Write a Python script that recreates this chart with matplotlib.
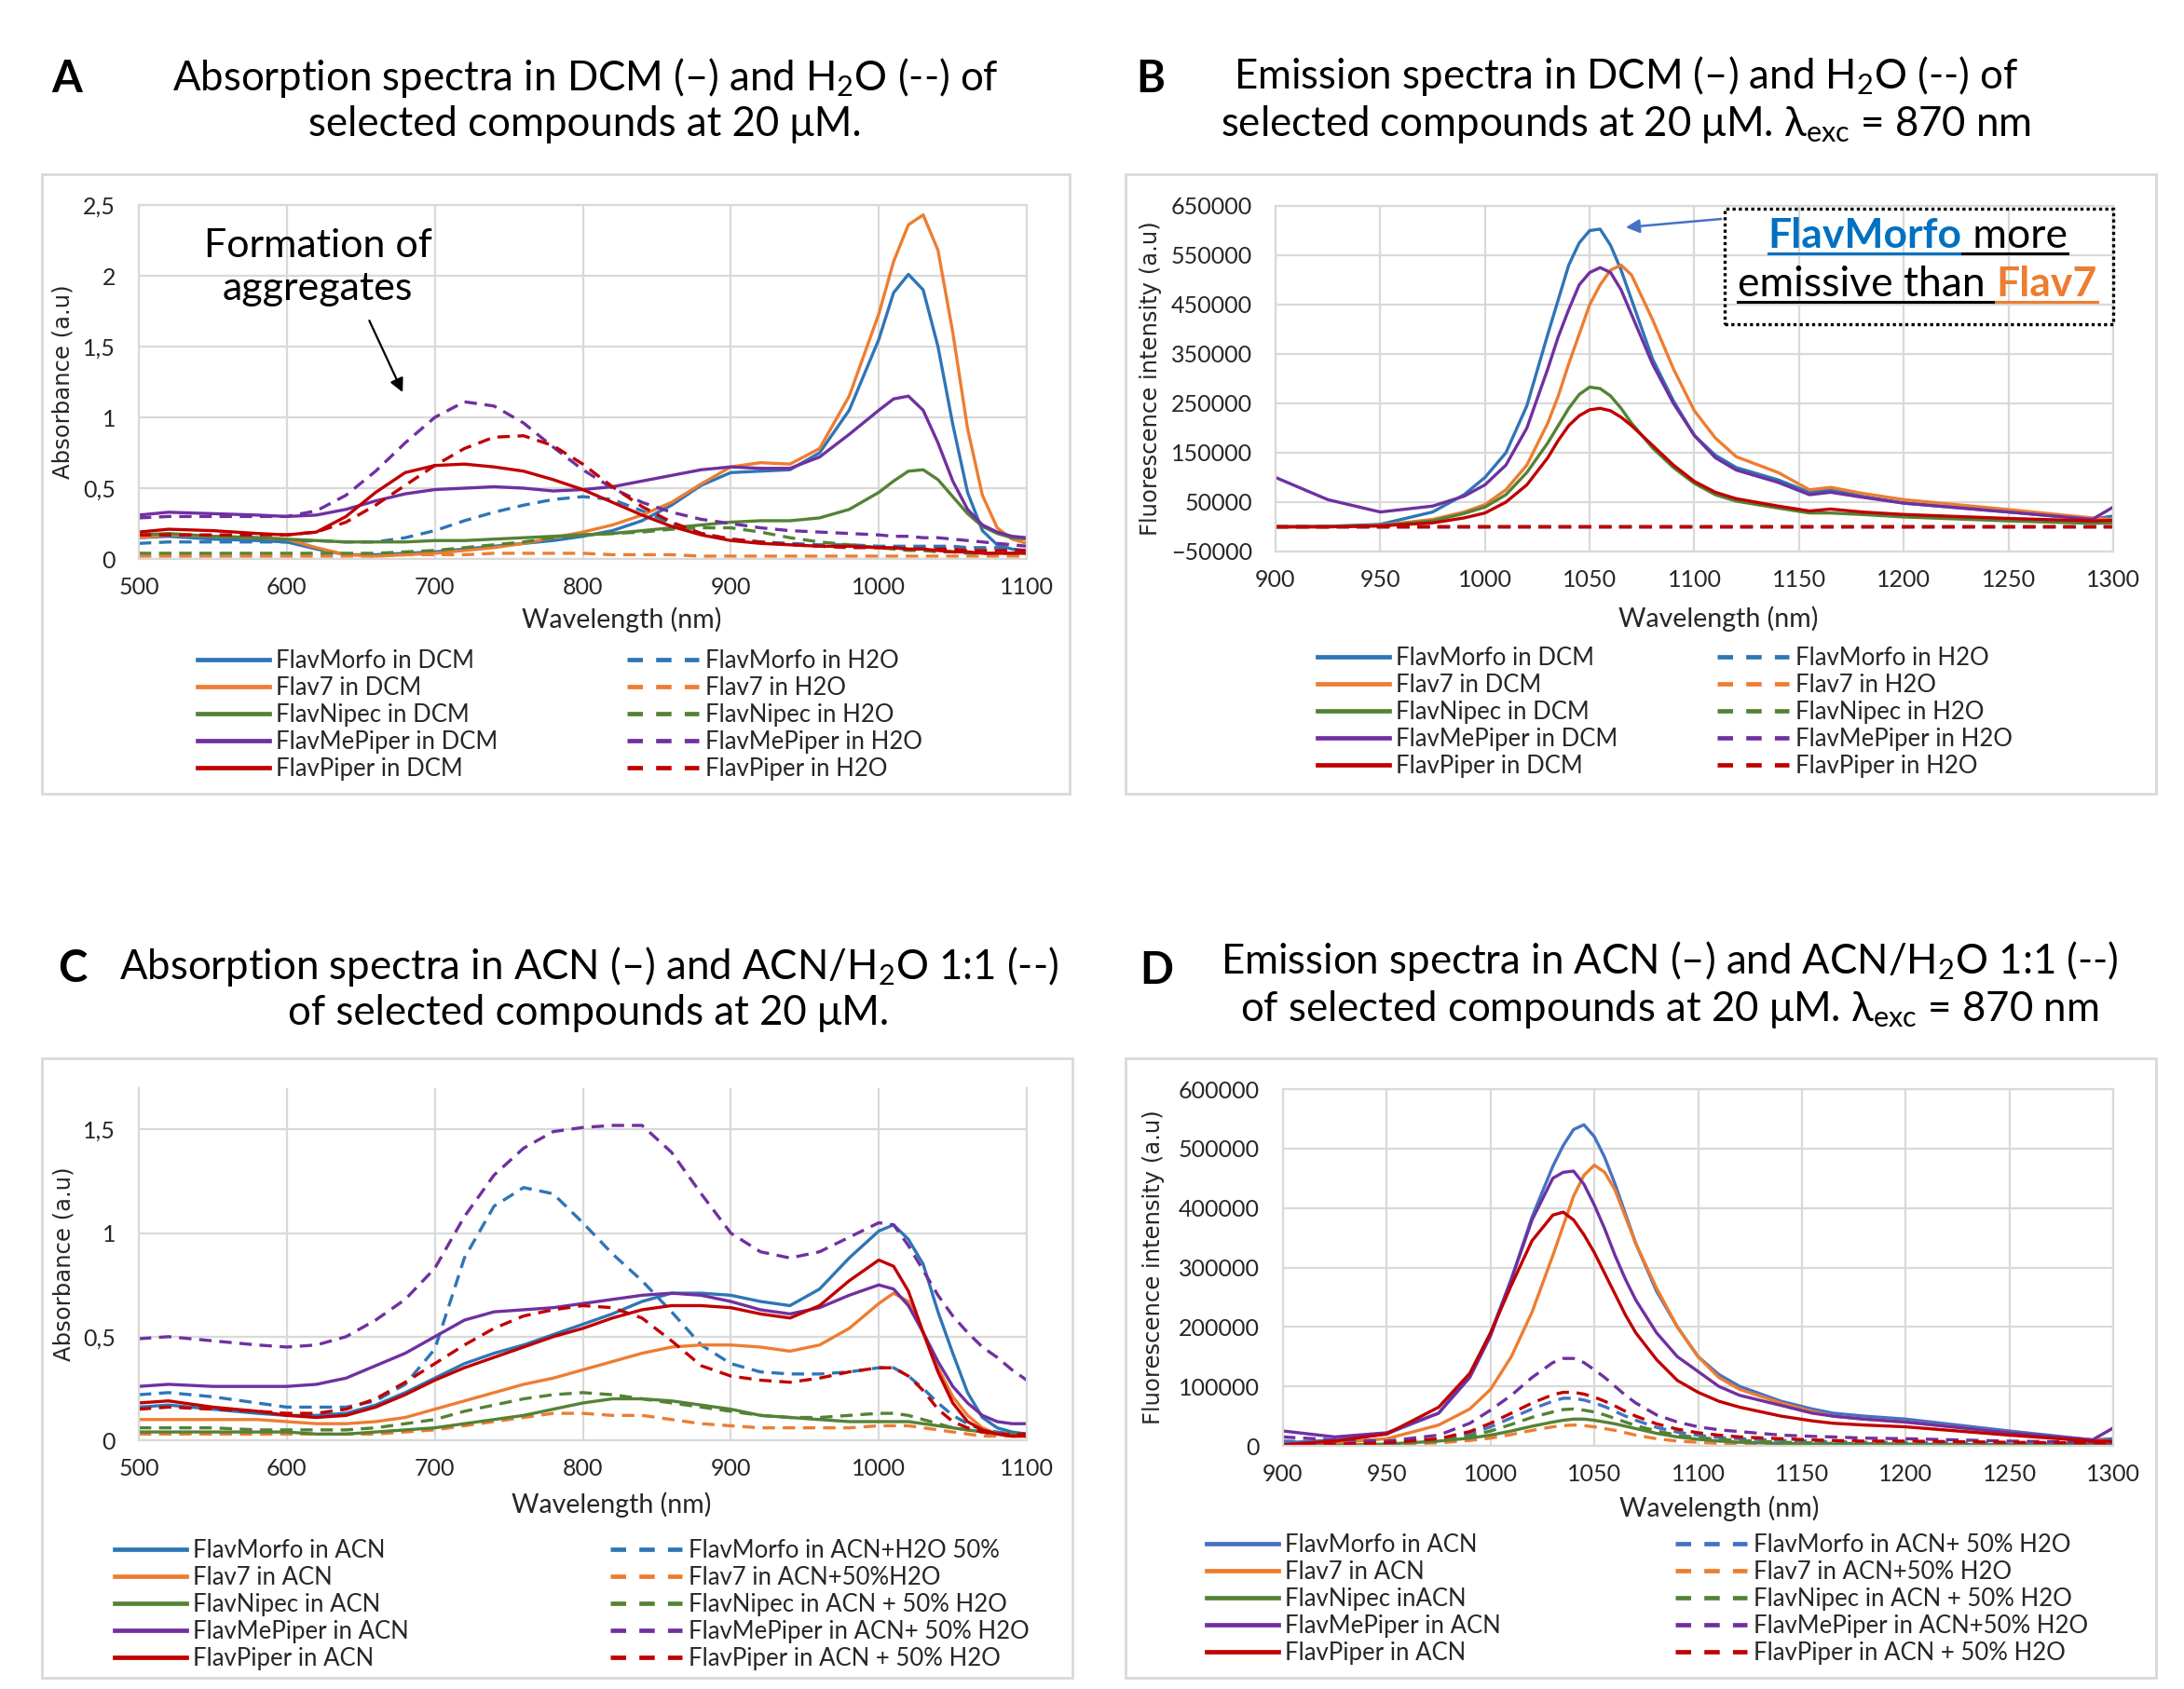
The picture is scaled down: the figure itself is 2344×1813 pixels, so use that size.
import matplotlib
matplotlib.use("Agg")
import matplotlib.pyplot as plt
import numpy as np
from matplotlib.lines import Line2D
from matplotlib.patches import Rectangle
from matplotlib.ticker import FuncFormatter

plt.rcParams['font.family'] = ['Lato', 'DejaVu Sans']
plt.rcParams['mathtext.fontset'] = 'custom'
plt.rcParams['mathtext.rm'] = 'Lato'
plt.rcParams['mathtext.it'] = 'Lato:italic'
plt.rcParams['mathtext.bf'] = 'Lato:bold'

W, H = 2344, 1813

# ---------------- data ----------------
compounds = ['FlavMorfo', 'Flav7', 'FlavNipec', 'FlavMePiper', 'FlavPiper']

# absorbance wavelength grid (nm), panels A and C
wl_abs = [500, 520, 550, 580, 600, 620, 640, 660, 680, 700, 720, 740, 760, 780, 800,
          820, 840, 860, 880, 900, 920, 940, 960, 980, 1000, 1010, 1020, 1030, 1040,
          1050, 1060, 1070, 1080, 1090, 1100]

# A: absorbance in DCM (solid)
a_morfo_dcm = [0.15, 0.16, 0.14, 0.13, 0.12, 0.07, 0.03, 0.03, 0.04, 0.05, 0.07, 0.09, 0.11, 0.13, 0.16,
               0.20, 0.27, 0.38, 0.52, 0.61, 0.62, 0.63, 0.75, 1.05, 1.55, 1.88, 2.01, 1.90, 1.50,
               0.95, 0.47, 0.20, 0.10, 0.07, 0.05]
a_flav7_dcm = [0.15, 0.17, 0.16, 0.15, 0.14, 0.08, 0.03, 0.02, 0.03, 0.04, 0.06, 0.08, 0.11, 0.15, 0.19,
               0.24, 0.31, 0.40, 0.53, 0.65, 0.68, 0.67, 0.78, 1.15, 1.73, 2.10, 2.36, 2.43, 2.18,
               1.60, 0.92, 0.45, 0.22, 0.14, 0.11]
a_nipec_dcm = [0.17, 0.18, 0.16, 0.15, 0.14, 0.13, 0.12, 0.12, 0.12, 0.13, 0.13, 0.14, 0.15, 0.16, 0.17,
               0.18, 0.20, 0.22, 0.24, 0.26, 0.27, 0.27, 0.29, 0.35, 0.47, 0.55, 0.62, 0.63, 0.56,
               0.44, 0.32, 0.23, 0.18, 0.15, 0.14]
a_mepiper_dcm = [0.31, 0.33, 0.32, 0.31, 0.30, 0.31, 0.35, 0.41, 0.46, 0.49, 0.50, 0.51, 0.50, 0.48, 0.49,
                 0.51, 0.55, 0.59, 0.63, 0.65, 0.64, 0.64, 0.72, 0.88, 1.05, 1.13, 1.15, 1.05, 0.82,
                 0.55, 0.35, 0.24, 0.19, 0.16, 0.15]
a_piper_dcm = [0.19, 0.21, 0.20, 0.18, 0.17, 0.19, 0.30, 0.47, 0.61, 0.66, 0.67, 0.65, 0.62, 0.56, 0.49,
               0.40, 0.31, 0.23, 0.17, 0.13, 0.11, 0.10, 0.09, 0.09, 0.08, 0.08, 0.07, 0.07, 0.06,
               0.05, 0.05, 0.04, 0.04, 0.04, 0.04]
# A: absorbance in H2O (dashed)
a_morfo_h2o = [0.11, 0.12, 0.12, 0.12, 0.12, 0.13, 0.12, 0.12, 0.15, 0.20, 0.27, 0.33, 0.38, 0.42, 0.44,
               0.42, 0.34, 0.25, 0.18, 0.14, 0.12, 0.11, 0.10, 0.10, 0.09, 0.09, 0.09, 0.09, 0.09,
               0.09, 0.08, 0.08, 0.08, 0.07, 0.06]
a_flav7_h2o = [0.02, 0.02, 0.02, 0.02, 0.02, 0.02, 0.02, 0.02, 0.03, 0.03, 0.03, 0.04, 0.04, 0.04, 0.04,
               0.03, 0.03, 0.03, 0.02, 0.02, 0.02, 0.02, 0.02, 0.02, 0.02, 0.02, 0.02, 0.02, 0.02,
               0.02, 0.02, 0.02, 0.02, 0.02, 0.02]
a_nipec_h2o = [0.04, 0.04, 0.04, 0.04, 0.04, 0.04, 0.04, 0.04, 0.05, 0.06, 0.08, 0.10, 0.12, 0.15, 0.17,
               0.18, 0.19, 0.21, 0.22, 0.22, 0.19, 0.15, 0.12, 0.10, 0.08, 0.07, 0.06, 0.06, 0.05,
               0.05, 0.04, 0.04, 0.04, 0.04, 0.04]
a_mepiper_h2o = [0.29, 0.30, 0.30, 0.30, 0.30, 0.34, 0.45, 0.62, 0.82, 1.00, 1.11, 1.08, 0.96, 0.79, 0.63,
                 0.50, 0.40, 0.33, 0.28, 0.25, 0.22, 0.20, 0.19, 0.18, 0.17, 0.16, 0.16, 0.15, 0.15,
                 0.14, 0.13, 0.12, 0.11, 0.10, 0.09]
a_piper_h2o = [0.17, 0.17, 0.17, 0.17, 0.17, 0.19, 0.26, 0.38, 0.52, 0.66, 0.78, 0.86, 0.87, 0.80, 0.67,
               0.51, 0.37, 0.26, 0.18, 0.14, 0.12, 0.10, 0.09, 0.08, 0.08, 0.08, 0.07, 0.07, 0.07,
               0.07, 0.06, 0.06, 0.06, 0.06, 0.06]

# C: absorbance in ACN (solid)
c_morfo_acn = [0.16, 0.17, 0.15, 0.13, 0.12, 0.12, 0.13, 0.17, 0.23, 0.30, 0.37, 0.42, 0.46, 0.51, 0.56,
               0.61, 0.67, 0.71, 0.71, 0.70, 0.67, 0.65, 0.73, 0.88, 1.01, 1.04, 0.97, 0.85, 0.62,
               0.42, 0.23, 0.11, 0.06, 0.04, 0.03]
c_flav7_acn = [0.10, 0.10, 0.10, 0.10, 0.09, 0.08, 0.08, 0.09, 0.11, 0.15, 0.19, 0.23, 0.27, 0.30, 0.34,
               0.38, 0.42, 0.45, 0.46, 0.46, 0.45, 0.43, 0.46, 0.54, 0.66, 0.71, 0.67, 0.52, 0.35,
               0.21, 0.12, 0.06, 0.03, 0.02, 0.02]
c_nipec_acn = [0.04, 0.04, 0.04, 0.04, 0.04, 0.03, 0.03, 0.04, 0.05, 0.06, 0.08, 0.10, 0.12, 0.15, 0.18,
               0.20, 0.20, 0.19, 0.17, 0.15, 0.12, 0.11, 0.10, 0.09, 0.09, 0.09, 0.09, 0.08, 0.07,
               0.06, 0.05, 0.04, 0.03, 0.03, 0.03]
c_mepiper_acn = [0.26, 0.27, 0.26, 0.26, 0.26, 0.27, 0.30, 0.36, 0.42, 0.50, 0.58, 0.62, 0.63, 0.64, 0.66,
                 0.68, 0.70, 0.71, 0.70, 0.67, 0.63, 0.61, 0.64, 0.70, 0.75, 0.73, 0.65, 0.52, 0.38,
                 0.26, 0.18, 0.12, 0.09, 0.08, 0.08]
c_piper_acn = [0.18, 0.19, 0.16, 0.14, 0.12, 0.11, 0.12, 0.16, 0.22, 0.29, 0.35, 0.40, 0.45, 0.50, 0.54,
               0.59, 0.63, 0.65, 0.65, 0.64, 0.61, 0.59, 0.65, 0.77, 0.87, 0.84, 0.72, 0.52, 0.33,
               0.18, 0.09, 0.05, 0.03, 0.02, 0.02]
# C: absorbance in ACN/H2O 1:1 (dashed)
c_morfo_mix = [0.22, 0.23, 0.21, 0.18, 0.16, 0.16, 0.16, 0.19, 0.27, 0.44, 0.88, 1.13, 1.22, 1.19, 1.05,
               0.90, 0.77, 0.62, 0.46, 0.37, 0.33, 0.32, 0.32, 0.33, 0.35, 0.35, 0.31, 0.25, 0.18,
               0.12, 0.08, 0.05, 0.04, 0.03, 0.03]
c_flav7_mix = [0.03, 0.03, 0.03, 0.03, 0.03, 0.03, 0.03, 0.03, 0.04, 0.05, 0.07, 0.09, 0.11, 0.13, 0.13,
               0.12, 0.12, 0.10, 0.08, 0.07, 0.06, 0.06, 0.06, 0.06, 0.07, 0.07, 0.07, 0.06, 0.05,
               0.04, 0.03, 0.02, 0.02, 0.02, 0.02]
c_nipec_mix = [0.06, 0.06, 0.06, 0.05, 0.05, 0.05, 0.05, 0.06, 0.08, 0.10, 0.14, 0.17, 0.20, 0.22, 0.23,
               0.22, 0.20, 0.18, 0.16, 0.14, 0.12, 0.11, 0.11, 0.12, 0.13, 0.13, 0.12, 0.10, 0.08,
               0.06, 0.05, 0.04, 0.03, 0.03, 0.03]
c_mepiper_mix = [0.49, 0.50, 0.48, 0.46, 0.45, 0.46, 0.50, 0.58, 0.68, 0.83, 1.08, 1.28, 1.41, 1.49, 1.51,
                 1.52, 1.52, 1.39, 1.19, 1.00, 0.91, 0.88, 0.91, 0.98, 1.05, 1.04, 0.94, 0.82, 0.70,
                 0.60, 0.52, 0.45, 0.40, 0.34, 0.29]
c_piper_mix = [0.15, 0.16, 0.15, 0.14, 0.13, 0.13, 0.15, 0.20, 0.28, 0.37, 0.46, 0.54, 0.60, 0.63, 0.65,
               0.64, 0.59, 0.48, 0.36, 0.31, 0.29, 0.28, 0.30, 0.33, 0.35, 0.35, 0.31, 0.24, 0.15,
               0.09, 0.06, 0.04, 0.03, 0.03, 0.03]

# emission wavelength grid (nm), panels B and D; intensities in thousands of a.u.
wl_em = [900, 925, 950, 975, 990, 1000, 1010, 1020, 1030, 1035, 1040, 1045, 1050, 1055, 1060, 1065,
         1070, 1080, 1090, 1100, 1110, 1120, 1140, 1155, 1165, 1180, 1200, 1250, 1290, 1300]

# B: emission in DCM (solid)
b_morfo_dcm = [0, 1, 5, 30, 65, 100, 150, 245, 390, 460, 530, 575, 600, 603, 570, 520,
               460, 340, 255, 185, 145, 120, 95, 70, 75, 62, 48, 30, 15, 22]
b_flav7_dcm = [0, 0, 3, 15, 30, 45, 75, 125, 210, 265, 330, 390, 450, 490, 520, 530,
               510, 420, 320, 235, 180, 142, 110, 75, 80, 68, 55, 35, 18, 15]
b_nipec_dcm = [0, 0, 2, 12, 27, 40, 65, 110, 170, 205, 240, 268, 283, 280, 265, 240,
               210, 160, 120, 88, 65, 52, 38, 28, 28, 25, 20, 12, 7, 8]
b_mepiper_dcm = [100, 55, 30, 42, 62, 85, 125, 200, 320, 385, 440, 490, 515, 525, 515, 480,
                 430, 330, 250, 185, 140, 115, 90, 65, 70, 60, 48, 30, 15, 40]
b_piper_dcm = [0, 0, 2, 8, 18, 28, 50, 85, 140, 175, 205, 225, 237, 240, 235, 222,
               205, 165, 125, 92, 70, 57, 42, 32, 36, 30, 25, 17, 12, 13]
# B: emission in H2O (dashed) - flat at zero
wl_em_h2o = [900, 1000, 1100, 1200, 1300]
b_morfo_h2o = [0, 0, 0, 0, 0]
b_flav7_h2o = [0, 0, 0, 0, 0]
b_nipec_h2o = [0, 0, 0, 0, 0]
b_mepiper_h2o = [0, 0, 0, 0, 0]
b_piper_h2o = [0, 0, 0, 0, 0]

# D: emission in ACN (solid)
d_morfo_acn = [5, 10, 20, 55, 120, 190, 280, 385, 470, 505, 532, 540, 520, 485, 440, 390,
               340, 260, 200, 150, 120, 100, 75, 62, 55, 50, 45, 25, 10, 12]
d_flav7_acn = [2, 5, 12, 35, 62, 95, 150, 225, 320, 370, 420, 455, 472, 460, 430, 385,
               340, 265, 200, 150, 115, 95, 72, 58, 50, 45, 40, 22, 10, 8]
d_nipec_acn = [0, 1, 3, 8, 13, 18, 25, 33, 40, 43, 45, 45, 43, 40, 37, 33,
               29, 21, 15, 11, 8, 6, 4, 3, 3, 2, 2, 1, 1, 1]
d_mepiper_acn = [25, 15, 22, 55, 115, 185, 280, 380, 450, 460, 462, 440, 405, 365, 320, 280,
                 245, 190, 150, 125, 100, 85, 68, 55, 50, 45, 40, 22, 10, 30]
d_piper_acn = [2, 8, 20, 65, 122, 190, 270, 345, 388, 393, 380, 355, 325, 290, 255, 220,
               190, 145, 110, 90, 75, 65, 50, 42, 38, 35, 32, 18, 8, 8]
# D: emission in ACN + 50% H2O (dashed)
d_morfo_mix = [8, 6, 5, 10, 20, 32, 47, 62, 75, 80, 80, 77, 72, 66, 58, 50,
               43, 31, 23, 18, 14, 12, 9, 8, 7, 6, 6, 4, 3, 3]
d_flav7_mix = [1, 1, 2, 5, 9, 13, 19, 26, 32, 34, 35, 34, 32, 29, 26, 22,
               18, 12, 8, 6, 4, 3, 3, 2, 2, 2, 2, 1, 1, 1]
d_nipec_mix = [2, 2, 3, 8, 16, 25, 36, 48, 57, 61, 62, 60, 57, 52, 46, 40,
               34, 25, 18, 14, 11, 9, 6, 5, 4, 4, 3, 2, 2, 2]
d_mepiper_mix = [15, 10, 8, 18, 38, 60, 85, 115, 140, 147, 147, 140, 128, 115, 100, 85,
                 72, 52, 40, 32, 27, 24, 18, 16, 15, 13, 12, 8, 6, 5]
d_piper_mix = [2, 3, 5, 12, 24, 38, 55, 72, 86, 90, 90, 87, 82, 75, 67, 58,
               50, 37, 28, 22, 18, 15, 12, 10, 9, 8, 8, 6, 5, 5]

lab_a_solid = ['FlavMorfo in DCM', 'Flav7 in DCM', 'FlavNipec in DCM', 'FlavMePiper in DCM', 'FlavPiper in DCM']
lab_a_dash = ['FlavMorfo in H2O', 'Flav7 in H2O', 'FlavNipec in H2O', 'FlavMePiper in H2O', 'FlavPiper in H2O']
lab_c_solid = ['FlavMorfo in ACN', 'Flav7 in ACN', 'FlavNipec in ACN', 'FlavMePiper in ACN', 'FlavPiper in ACN']
lab_c_dash = ['FlavMorfo in ACN+H2O 50%', 'Flav7 in ACN+50%H2O', 'FlavNipec in ACN + 50% H2O',
              'FlavMePiper in ACN+ 50% H2O', 'FlavPiper in ACN + 50% H2O']
lab_d_solid = ['FlavMorfo in ACN', 'Flav7 in ACN', 'FlavNipec inACN', 'FlavMePiper in ACN', 'FlavPiper in ACN']
lab_d_dash = ['FlavMorfo in ACN+ 50% H2O', 'Flav7 in ACN+50% H2O', 'FlavNipec in ACN + 50% H2O',
              'FlavMePiper in ACN+50% H2O', 'FlavPiper in ACN + 50% H2O']

title_a = "Absorption spectra in DCM (–) and H$_\\mathregular{2}$O (--) of\nselected compounds at 20 μM."
title_b = ("Emission spectra in DCM (–) and H$_\\mathregular{2}$O (--) of\n"
           "selected compounds at 20 μM. λ$_\\mathregular{exc}$ = 870 nm")
title_c = "Absorption spectra in ACN (–) and ACN/H$_\\mathregular{2}$O 1:1 (--)\nof selected compounds at 20 μM."
title_d = ("Emission spectra in ACN (–) and ACN/H$_\\mathregular{2}$O 1:1 (--)\n"
           "of selected compounds at 20 μM. λ$_\\mathregular{exc}$ = 870 nm")

# ---------------- styling ----------------
cols = ['#2E75B6', '#ED7D31', '#548235', '#7030A0', '#C00000']
cols_d = ['#4472C4', '#ED7D31', '#548235', '#7030A0', '#C00000']
grid_c = '#D9D9D9'
tick_c = '#262626'
dash = (0, (4, 2.5))
LW = 2.4

fig = plt.figure(figsize=(W / 100, H / 100), dpi=100)


def box(x0, y0, x1, y1):
    # pixel box (top-left origin) -> figure fraction rect
    return [x0 / W, 1 - y1 / H, (x1 - x0) / W, (y1 - y0) / H]


def frame(x0, y0, x1, y1):
    r = box(x0, y0, x1, y1)
    fig.add_artist(Rectangle((r[0], r[1]), r[2], r[3], transform=fig.transFigure,
                             fill=False, edgecolor=grid_c, lw=2.0))


def comma(v, pos):
    return ('%g' % v).replace('.', ',')


def setup(ax, xticks, ylim, yticks, ylabel, xlab_xy, ylab_x, fmt=None, top=True):
    ax.set_xlim(xticks[0], xticks[-1])
    ax.set_xticks(xticks)
    ax.set_ylim(ylim)
    ax.set_yticks(yticks)
    ax.grid(True, color=grid_c, lw=1.6)
    ax.set_axisbelow(True)
    for name, sp in ax.spines.items():
        sp.set_color(grid_c)
        sp.set_linewidth(1.6)
    ax.spines['top'].set_visible(top)
    ax.tick_params(length=0, labelsize=18, colors=tick_c)
    ax.tick_params(axis='x', pad=14)
    ax.tick_params(axis='y', pad=18)
    if fmt is not None:
        ax.yaxis.set_major_formatter(FuncFormatter(fmt))
    ax.set_xlabel('Wavelength (nm)', fontsize=20.5, color=tick_c, va='center')
    ax.xaxis.set_label_coords(*xlab_xy)
    ax.set_ylabel(ylabel, fontsize=17.5, family='DejaVu Sans', color=tick_c, va='center')
    ax.yaxis.set_label_coords(ylab_x, 0.5)


def curves(ax, xs, solids, xd, dashed, colors, scale=1.0):
    for s, d, c in zip(solids, dashed, colors):
        ax.plot(xs, np.array(s) * scale, color=c, lw=LW)
        ax.plot(xd, np.array(d) * scale, color=c, lw=LW, ls=dash)


def legends(colors, lab_solid, lab_dash, x1, x2, ytop):
    h1 = [Line2D([], [], color=c, lw=3.4) for c in colors]
    h2 = [Line2D([], [], color=c, lw=3.4, ls=(0, (3.5, 3))) for c in colors]
    for hs, labs, x in ((h1, lab_solid, x1), (h2, lab_dash, x2)):
        fig.legend(hs, labs, loc='upper left', bbox_to_anchor=(x / W, 1 - ytop / H),
                   frameon=False, fontsize=18.5, handlelength=3.0, handletextpad=0.25,
                   labelspacing=0.155, borderpad=0, borderaxespad=0, labelcolor=tick_c)


def title(txt, cx, cy, letter, lx, ly):
    fig.text(cx / W, 1 - cy / H, txt, ha='center', va='center', fontsize=31.5,
             linespacing=1.16, multialignment='center', color='black')
    fig.text(lx / W, 1 - ly / H, letter, ha='center', va='center', fontsize=34,
             weight='bold', color='black')


# panel frames
frame(45, 187, 1148, 852)
frame(1208, 187, 2314, 852)
frame(45, 1136, 1151, 1801)
frame(1208, 1136, 2314, 1801)

# ---------------- A ----------------
axA = fig.add_axes(box(149, 220, 1102, 600))
curves(axA, wl_abs, [a_morfo_dcm, a_flav7_dcm, a_nipec_dcm, a_mepiper_dcm, a_piper_dcm],
       wl_abs, [a_morfo_h2o, a_flav7_h2o, a_nipec_h2o, a_mepiper_h2o, a_piper_h2o], cols)
setup(axA, list(range(500, 1101, 100)), (0, 2.5), [0, 0.5, 1, 1.5, 2, 2.5],
      'Absorbance (a.u)', (0.544, -0.171), -0.086, fmt=comma)
axA.text(621, 2.06, 'Formation of\naggregates', ha='center', va='center', fontsize=31,
         linespacing=1.25, color='black')
axA.annotate('', xy=(679, 1.16), xytext=(655, 1.70),
             arrowprops=dict(arrowstyle='-|>', color='black', lw=1.6, mutation_scale=22))
title(title_a, 628, 107, 'A', 72, 85)
legends(cols, lab_a_solid, lab_a_dash, 212, 673, 697)

# ---------------- B ----------------
axB = fig.add_axes(box(1369, 221, 2268, 592))
curves(axB, wl_em, [b_morfo_dcm, b_flav7_dcm, b_nipec_dcm, b_mepiper_dcm, b_piper_dcm],
       wl_em_h2o, [b_morfo_h2o, b_flav7_h2o, b_nipec_h2o, b_mepiper_h2o, b_piper_h2o],
       cols, scale=1000)
setup(axB, list(range(900, 1301, 50)), (-50000, 650000), list(range(-50000, 650001, 100000)),
      'Fluorescence intensity (a.u)', (0.529, -0.194), -0.149)
axB.annotate('', xy=(1066, 606000), xytext=(1114, 624000), annotation_clip=False,
             arrowprops=dict(arrowstyle='-|>', color='#4472C4', lw=1.8, mutation_scale=22))
r = box(1851, 224, 2268, 348)
fig.add_artist(Rectangle((r[0], r[1]), r[2], r[3], transform=fig.transFigure, fill=False,
                         edgecolor='black', lw=2.4, ls=(0, (1, 1))))
title(title_b, 1745, 107, 'B', 1235, 85)
legends(cols, lab_a_solid, lab_a_dash, 1414, 1843, 694)

# ---------------- C ----------------
axC = fig.add_axes(box(149, 1168, 1102, 1546))
curves(axC, wl_abs, [c_morfo_acn, c_flav7_acn, c_nipec_acn, c_mepiper_acn, c_piper_acn],
       wl_abs, [c_morfo_mix, c_flav7_mix, c_nipec_mix, c_mepiper_mix, c_piper_mix], cols)
setup(axC, list(range(500, 1101, 100)), (0, 1.7), [0, 0.5, 1, 1.5],
      'Absorbance (a.u)', (0.532, -0.183), -0.084, fmt=comma, top=False)
title(title_c, 632, 1061, 'C', 78, 1040)
legends(cols, lab_c_solid, lab_c_dash, 123, 655, 1652)

# ---------------- D ----------------
axD = fig.add_axes(box(1377, 1169, 2268, 1552))
curves(axD, wl_em, [d_morfo_acn, d_flav7_acn, d_nipec_acn, d_mepiper_acn, d_piper_acn],
       wl_em, [d_morfo_mix, d_flav7_mix, d_nipec_mix, d_mepiper_mix, d_piper_mix],
       cols_d, scale=1000)
setup(axD, list(range(900, 1301, 50)), (0, 600000), list(range(0, 600001, 100000)),
      'Fluorescence intensity (a.u)', (0.525, -0.175), -0.156)
title(title_d, 1792, 1057, 'D', 1241, 1042)
legends(cols_d, lab_d_solid, lab_d_dash, 1295, 1798, 1646)

# ---------------- B annotation text with underlines ----------------
renderer = fig.canvas.get_renderer()


def rich_line(parts, cx, base_y, fs):
    texts = [fig.text(0, 1 - base_y / H, s, color=c, weight=w, fontsize=fs, va='baseline', ha='left')
             for s, c, w in parts]
    widths = [t.get_window_extent(renderer).width for t in texts]
    x = cx - sum(widths) / 2
    for t, wd, (s, c, w) in zip(texts, widths, parts):
        t.set_x(x / W)
        uy = 1 - (base_y + 6) / H
        fig.add_artist(Line2D([x / W, (x + wd) / W], [uy, uy], transform=fig.transFigure,
                              color=c, lw=2.2))
        x += wd


rich_line([('FlavMorfo', '#0070C0', 'bold'), (' more', 'black', 'normal')], 2058, 266, 32)
rich_line([('emissive than ', 'black', 'normal'), ('Flav7', '#ED7D31', 'bold')], 2058, 318, 32)

fig.savefig('out.png', dpi=100, facecolor='white')
